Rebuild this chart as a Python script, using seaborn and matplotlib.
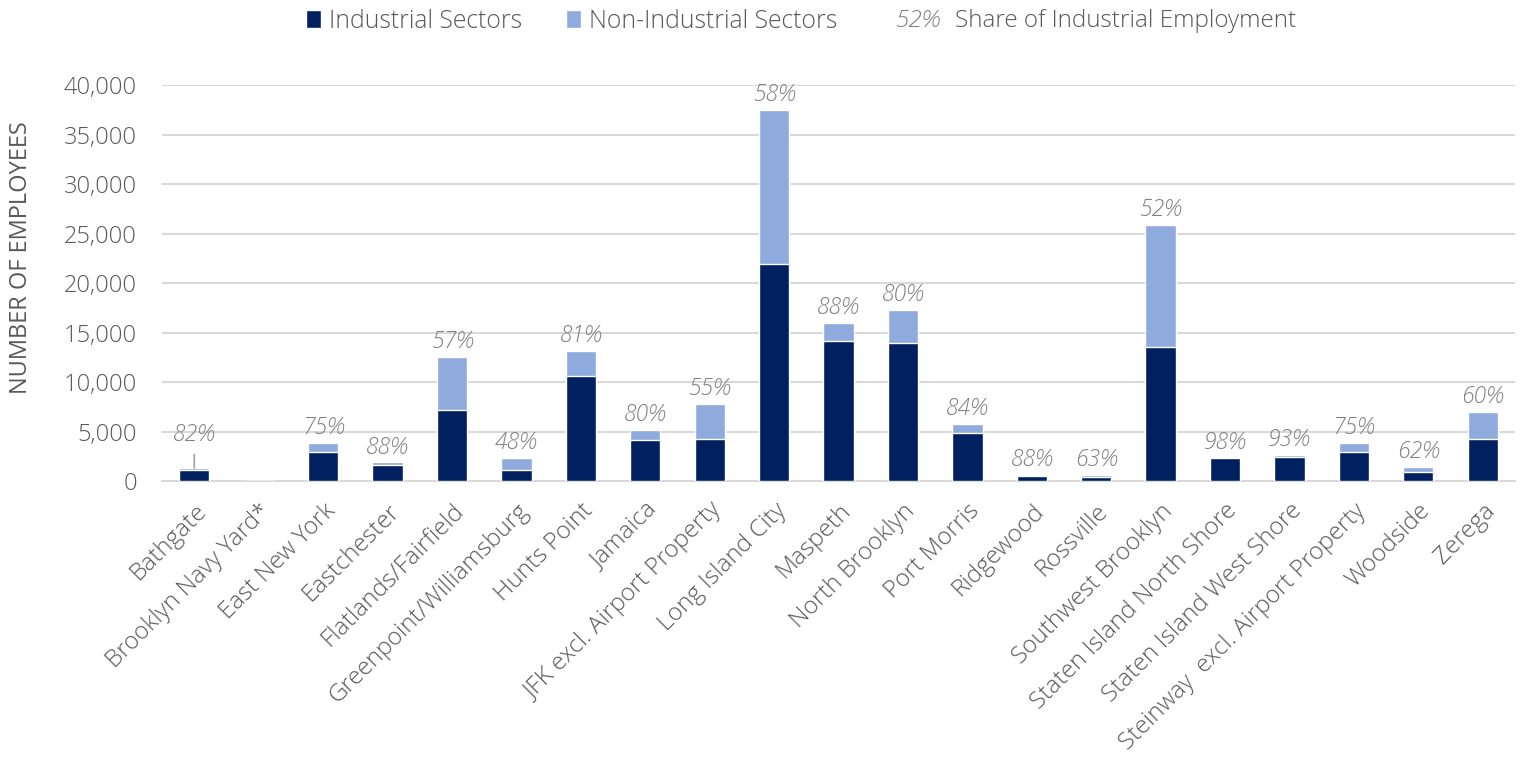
import pandas as pd
import seaborn as sns
import matplotlib.pyplot as plt
from matplotlib.patches import Patch
from matplotlib.ticker import FuncFormatter

# Employment by industrial business zone
zones = [
    "Bathgate", "Brooklyn Navy Yard*", "East New York", "Eastchester",
    "Flatlands/Fairfield", "Greenpoint/Williamsburg", "Hunts Point", "Jamaica",
    "JFK excl. Airport Property", "Long Island City", "Maspeth", "North Brooklyn",
    "Port Morris", "Ridgewood", "Rossville", "Southwest Brooklyn",
    "Staten Island North Shore", "Staten Island West Shore",
    "Steinway  excl. Airport Property", "Woodside", "Zerega",
]
industrial = [1075, 0, 2900, 1650, 7150, 1100, 10650, 4150, 4250, 21900, 14100,
              13900, 4850, 530, 380, 13500, 2300, 2450, 2900, 870, 4200]
non_industrial = [235, 0, 970, 230, 5400, 1200, 2500, 1050, 3550, 15600, 1900,
                  3400, 900, 70, 220, 12400, 50, 180, 970, 530, 2800]
share_pct = [82, None, 75, 88, 57, 48, 81, 80, 55, 58, 88, 80, 84, 88, 63, 52,
             98, 93, 75, 62, 60]
leader_zones = ["Bathgate"]

NAVY = "#002060"
LIGHT = "#8FAADC"
GRID = "#D9D9D9"
TXT = "#595959"
PCT = "#7F7F7F"

df = pd.DataFrame({"zone": zones, "industrial": industrial,
                   "non_industrial": non_industrial, "share": share_pct})
df["total"] = df["industrial"] + df["non_industrial"]

sns.set_theme(style="white")
plt.rcParams["font.family"] = ["Open Sans", "DejaVu Sans"]
plt.rcParams["font.weight"] = "light"

fig = plt.figure(figsize=(15.2, 7.7), dpi=100)
ax = fig.add_axes([0.1066, 0.3753, 0.8901, 0.5143])

# stacked bars: full total in light blue, industrial part on top in navy
sns.barplot(data=df, x="zone", y="total", color=LIGHT, saturation=1,
            width=0.47, ax=ax, zorder=3)
sns.barplot(data=df, x="zone", y="industrial", color=NAVY, saturation=1,
            width=0.47, ax=ax, zorder=4)

for i, row in df.iterrows():
    if pd.isna(row["share"]):
        continue
    label = f"{int(row['share'])}%"
    if row["zone"] in leader_zones:
        ax.annotate(label, xy=(i, row["total"]), xytext=(0, 15),
                    textcoords="offset points", ha="center", va="bottom",
                    fontsize=16.5, style="italic", color=PCT,
                    arrowprops=dict(arrowstyle="-", color="#A6A6A6", lw=1.3,
                                    shrinkA=3, shrinkB=0))
    else:
        ax.annotate(label, xy=(i, row["total"]), xytext=(0, 2),
                    textcoords="offset points", ha="center", va="bottom",
                    fontsize=16.5, style="italic", color=PCT)

ax.set_ylim(0, 40000)
ax.set_xlim(-0.5, len(zones) - 0.5)
ax.set_yticks(range(0, 40001, 5000))
ax.yaxis.set_major_formatter(FuncFormatter(lambda v, p: f"{v:,.0f}"))
ax.grid(axis="y", color=GRID, lw=1.5, zorder=0)
ax.grid(axis="x", visible=False)
for s in ["top", "right", "left"]:
    ax.spines[s].set_visible(False)
ax.spines["bottom"].set_color(GRID)
ax.spines["bottom"].set_linewidth(1.5)

ax.tick_params(axis="y", length=0, pad=18, labelsize=17, labelcolor=TXT)
ax.tick_params(axis="x", length=0, pad=13, labelsize=17.5, labelcolor=TXT)
plt.setp(ax.get_xticklabels(), rotation=45, ha="right", va="top",
         rotation_mode="anchor")

ax.set_xlabel("")
ax.set_ylabel("NUMBER OF EMPLOYEES", fontsize=17, color=TXT)
ax.yaxis.set_label_coords(-0.0953, 0.563)

# legend row at the top
handles = [Patch(facecolor=NAVY), Patch(facecolor=LIGHT)]
fig.legend(handles, ["Industrial Sectors", "Non-Industrial Sectors"],
           loc="center left", bbox_to_anchor=(306 / 1520, 0.9727), ncol=2,
           frameon=False, fontsize=17.8, labelcolor=TXT, handlelength=0.6,
           handleheight=0.7, handletextpad=0.35, columnspacing=1.75,
           borderpad=0, borderaxespad=0)
fig.text(896 / 1520, 0.9727, "52%", style="italic", fontsize=17.5,
         color=PCT, va="center", ha="left")
fig.text(955 / 1520, 0.9727, "Share of Industrial Employment", fontsize=17.5,
         color=TXT, va="center", ha="left")

fig.savefig("out.png", dpi=100)
